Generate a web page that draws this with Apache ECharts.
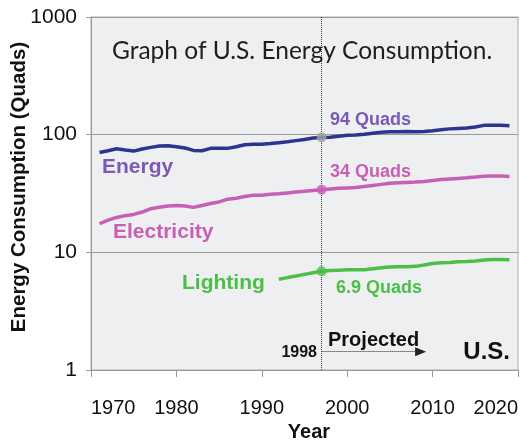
<!DOCTYPE html>
<html>
<head>
<meta charset="utf-8">
<script src="https://cdn.jsdelivr.net/npm/echarts@6/dist/echarts.min.js"></script>
<style>
  html, body { margin: 0; padding: 0; background: #fff; }
  #chart { width: 529px; height: 442px; }
</style>
</head>
<body>
<div id="chart"></div>
<script>
// values (Quads, log scale)
var energyYears = [1971, 1972, 1973, 1974, 1975, 1976, 1977, 1978, 1979, 1980,
    1981, 1982, 1983, 1984, 1985, 1986, 1987, 1988, 1989, 1990,
    1991, 1992, 1993, 1994, 1995, 1996, 1997, 1998, 1999, 2000,
    2001, 2002, 2003, 2004, 2005, 2006, 2007, 2008, 2009, 2010,
    2011, 2012, 2013, 2014, 2015, 2016, 2017, 2018, 2019];
var energyValues = [70.5, 73, 76, 74, 72.5, 75.5, 78, 80, 80.5, 79,
    77, 73.5, 73, 76.5, 76.5, 76.5, 79, 82, 83, 83,
    84, 85.5, 87, 89, 91, 93.5, 94.5, 95, 97, 99,
    99.5, 101, 103, 105, 106, 106, 106.5, 106, 106.5, 108,
    110, 112, 113, 114, 116, 120, 120, 120, 119];
var electricityValues = [17.5, 18.8, 19.8, 20.5, 21, 22, 23.5, 24.2, 24.8, 25,
    24.8, 24.1, 25, 26, 26.8, 28.3, 28.8, 29.8, 30.5, 30.5,
    31.2, 31.5, 32, 32.5, 33, 33.6, 34, 34.5, 35, 35.3,
    35.6, 36.2, 37, 37.8, 38.6, 39, 39.3, 39.6, 40, 40.8,
    41.5, 42, 42.5, 43, 43.6, 44.3, 44.6, 44.5, 44.2];
var lightingYears = [1992, 1993, 1994, 1995, 1996, 1997, 1998, 1999, 2000, 2001,
    2002, 2003, 2004, 2005, 2006, 2007, 2008, 2009, 2010, 2011,
    2012, 2013, 2014, 2015, 2016, 2017, 2018, 2019];
var lightingValues = [5.9, 6.1, 6.3, 6.5, 6.7, 6.9, 7.0, 7.05, 7.1, 7.1,
    7.1, 7.25, 7.4, 7.5, 7.55, 7.55, 7.6, 7.8, 8.05, 8.15,
    8.2, 8.3, 8.35, 8.45, 8.6, 8.7, 8.7, 8.65];

var markYear = 1997;                 // the "1998" split line as drawn
var markValues = [94.5, 34, 6.9];    // energy, electricity, lighting
var arrowEndYear = 2008.6, arrowLevel = 1.43;

var yTicks = [1, 10, 100, 1000];

var colors = {
    energyLine: '#2b3590', energyText: '#7a5ab5',
    electricity: '#c760b4', lighting: '#4cbf48', dot: '#a3a3a3'
};

function pairs(xs, ys) {
    return xs.map(function (x, i) { return [x, ys[i]]; });
}

var chart = echarts.init(document.getElementById('chart'));
var sans = 'Liberation Sans, Arial, sans-serif';

function label(text, x, y, size, color, align) {
    return {
        type: 'text', x: x, y: y, z: 100,
        style: {
            text: text, fill: color, font: 'bold ' + size + 'px ' + sans,
            align: align || 'left', verticalAlign: 'middle'
        }
    };
}

chart.setOption({
    animation: false,
    grid: {
        left: 91, top: 17, right: 11, bottom: 72,
        show: true, backgroundColor: '#eeeff1', borderColor: '#aaaaaa', borderWidth: 1
    },
    xAxis: {
        type: 'value', min: 1970, max: 2020, interval: 10,
        axisLine: { lineStyle: { color: '#999' } },
        axisTick: { length: 7, lineStyle: { color: '#999' } },
        axisLabel: {
            color: '#111', fontSize: 20, fontFamily: sans, margin: 28,
            alignMinLabel: 'left', alignMaxLabel: 'right',
            formatter: function (v) { return String(v); }
        },
        splitLine: { show: false }
    },
    yAxis: {
        type: 'log', logBase: 10, min: 1, max: 1000,
        axisLine: { show: true, lineStyle: { color: '#999' } },
        axisTick: { show: true, length: 5, lineStyle: { color: '#999' } },
        axisLabel: {
            color: '#111', fontSize: 21, fontFamily: sans, margin: 14,
            formatter: function (v) { return yTicks.indexOf(v) >= 0 ? String(v) : ''; }
        },
        splitLine: { lineStyle: { color: '#999', width: 1 } }
    },
    series: [
        {
            name: 'Energy', type: 'line', data: pairs(energyYears, energyValues),
            showSymbol: false, lineStyle: { color: colors.energyLine, width: 3.5 },
            markLine: {
                silent: true, symbol: 'none', label: { show: false },
                lineStyle: { type: 'dotted', color: '#333', width: 1 },
                data: [{ xAxis: markYear }]
            }
        },
        {
            name: 'Electricity', type: 'line', data: pairs(energyYears, electricityValues),
            showSymbol: false, lineStyle: { color: colors.electricity, width: 3.5 }
        },
        {
            name: 'Lighting', type: 'line', data: pairs(lightingYears, lightingValues),
            showSymbol: false, lineStyle: { color: colors.lighting, width: 3.5 },
            markLine: {
                silent: true, symbol: ['none', 'triangle'], symbolSize: [9, 11],
                label: { show: false },
                lineStyle: { type: 'dotted', color: '#222', width: 1 },
                data: [[{ coord: [markYear, arrowLevel] }, { coord: [arrowEndYear, arrowLevel] }]]
            }
        },
        {
            name: 'marks', type: 'scatter', symbolSize: 10, z: 5,
            data: [
                { value: [markYear, markValues[0]], itemStyle: { color: colors.dot } },
                { value: [markYear, markValues[1]], itemStyle: { color: colors.electricity } },
                { value: [markYear, markValues[2]], itemStyle: { color: colors.lighting } }
            ]
        }
    ],
    graphic: [
        {
            type: 'text', x: 112, y: 51, z: 100,
            style: {
                text: 'Graph of U.S. Energy Consumption.', fill: '#1e1e1e',
                font: '24.5px Lato, sans-serif', align: 'left', verticalAlign: 'middle'
            }
        },
        {
            type: 'text', z: 100, x: 19, y: 187, rotation: Math.PI / 2,
            style: {
                text: 'Energy Consumption (Quads)', fill: '#111', font: 'bold 20.5px ' + sans,
                align: 'center', verticalAlign: 'middle'
            }
        },
        label('Year', 309, 432, 20, '#111', 'center'),
        label('Energy', 102, 167, 21, colors.energyText),
        label('94 Quads', 330, 120, 18, colors.energyText),
        label('34 Quads', 330, 172, 18, colors.electricity),
        label('Electricity', 113, 232, 21, colors.electricity),
        label('Lighting', 182, 283, 21, colors.lighting),
        label('6.9 Quads', 336, 288, 18, colors.lighting),
        label('Projected', 328, 340, 20, '#111'),
        label('1998', 317, 353, 16, '#111', 'right'),
        label('U.S.', 510, 352, 24, '#111', 'right')
    ]
});
</script>
</body>
</html>
